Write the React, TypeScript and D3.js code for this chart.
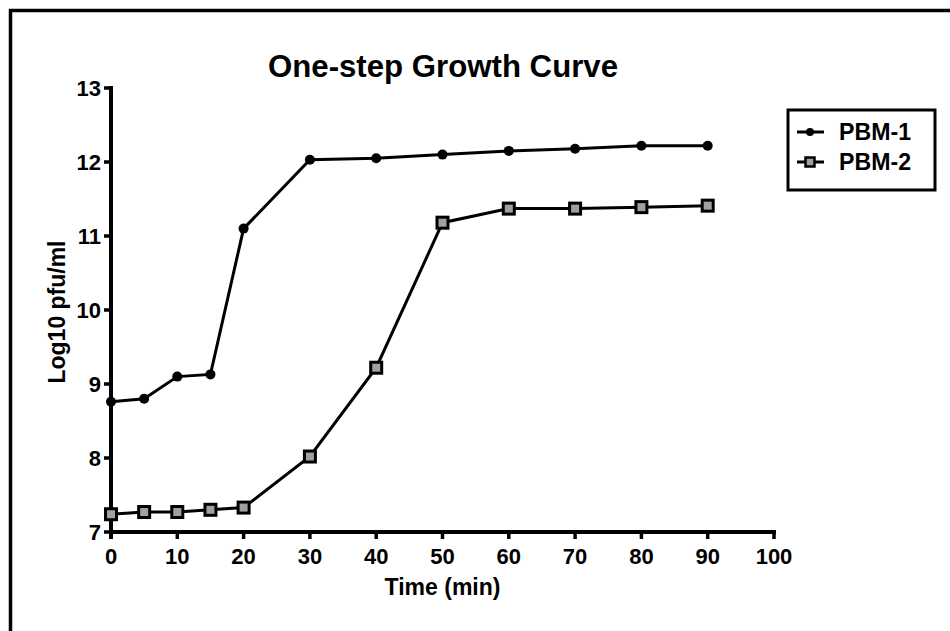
import * as d3 from 'd3';

// minutes after infection
const times = [0, 5, 10, 15, 20, 30, 40, 50, 60, 70, 80, 90];
const pbm1 = [8.76, 8.8, 9.1, 9.13, 11.1, 12.03, 12.05, 12.1, 12.15, 12.18, 12.22, 12.22];
const pbm2 = [7.24, 7.27, 7.27, 7.3, 7.33, 8.02, 9.22, 11.18, 11.37, 11.37, 11.39, 11.41];
const xTicks = [0, 10, 20, 30, 40, 50, 60, 70, 80, 90, 100];
const yTicks = [7, 8, 9, 10, 11, 12, 13];

const W = 950;
const H = 631;
const FONT = 'Liberation Sans, Arial, sans-serif';

const x = d3.scaleLinear().domain([0, 100]).range([111, 774]);
const y = d3.scaleLinear().domain([7, 13]).range([532, 88]);

const line = d3.line<number>()
  .x((_, i) => x(times[i]))
  .y(d => y(d));

const App = () => {
  return (
    <svg width={W} height={H} style={{ position: 'absolute', left: 0, top: 0, background: '#fff' }}>
      {/* outer frame, runs off the right and bottom */}
      <rect x={10.5} y={10.5} width={W} height={H} fill="none" stroke="#000" strokeWidth={3.5} />

      <text x={443} y={77} textAnchor="middle" fontFamily={FONT} fontWeight="bold" fontSize={31}
        textLength={350} lengthAdjust="spacingAndGlyphs">
        One-step Growth Curve
      </text>

      {/* y axis */}
      <line x1={x(0)} x2={x(0)} y1={y(13) - 2} y2={y(7) + 7} stroke="#000" strokeWidth={4} />
      {yTicks.map(t => (
        <g key={t}>
          <line x1={x(0) - 7} x2={x(0)} y1={y(t)} y2={y(t)} stroke="#000" strokeWidth={3.5} />
          <text x={101} y={y(t) + 8} textAnchor="end" fontFamily={FONT} fontWeight="bold" fontSize={22}>
            {t}
          </text>
        </g>
      ))}
      <text
        transform={`translate(65,${y(10) + 2}) rotate(-90)`}
        textAnchor="middle"
        fontFamily={FONT}
        fontWeight="bold"
        fontSize={23}
        textLength={143}
        lengthAdjust="spacingAndGlyphs"
      >
        Log10 pfu/ml
      </text>

      {/* x axis */}
      <line x1={x(0) - 2} x2={x(100) + 2} y1={y(7)} y2={y(7)} stroke="#000" strokeWidth={4} />
      {xTicks.map(t => (
        <g key={t}>
          <line x1={x(t)} x2={x(t)} y1={y(7)} y2={y(7) + 7} stroke="#000" strokeWidth={3.5} />
          <text x={x(t)} y={564} textAnchor="middle" fontFamily={FONT} fontWeight="bold" fontSize={22}>
            {t}
          </text>
        </g>
      ))}
      <text x={x(50)} y={595} textAnchor="middle" fontFamily={FONT} fontWeight="bold" fontSize={23}
        textLength={116} lengthAdjust="spacingAndGlyphs">
        Time (min)
      </text>

      {/* PBM-1 */}
      <path d={line(pbm1) ?? ''} fill="none" stroke="#000" strokeWidth={3} />
      {pbm1.map((v, i) => (
        <circle key={i} cx={x(times[i])} cy={y(v)} r={5} fill="#000" />
      ))}

      {/* PBM-2 */}
      <path d={line(pbm2) ?? ''} fill="none" stroke="#000" strokeWidth={3} />
      {pbm2.map((v, i) => (
        <rect key={i} x={x(times[i]) - 5.5} y={y(v) - 5.5} width={11} height={11} fill="#a0a0a0" stroke="#000" strokeWidth={3} />
      ))}

      {/* legend */}
      <rect x={788} y={110} width={147} height={80} fill="#fff" stroke="#000" strokeWidth={3} />
      <line x1={797} x2={824} y1={132} y2={132} stroke="#000" strokeWidth={3} />
      <circle cx={810} cy={132} r={4} fill="#000" />
      <text x={839} y={140} fontFamily={FONT} fontWeight="bold" fontSize={23}
        textLength={72} lengthAdjust="spacingAndGlyphs">PBM-1</text>
      <line x1={797} x2={824} y1={162} y2={162} stroke="#000" strokeWidth={3} />
      <rect x={805.5} y={157.5} width={9} height={9} fill="#a0a0a0" stroke="#000" strokeWidth={2.5} />
      <text x={839} y={170} fontFamily={FONT} fontWeight="bold" fontSize={23}
        textLength={72} lengthAdjust="spacingAndGlyphs">PBM-2</text>
    </svg>
  );
};

export default App;
